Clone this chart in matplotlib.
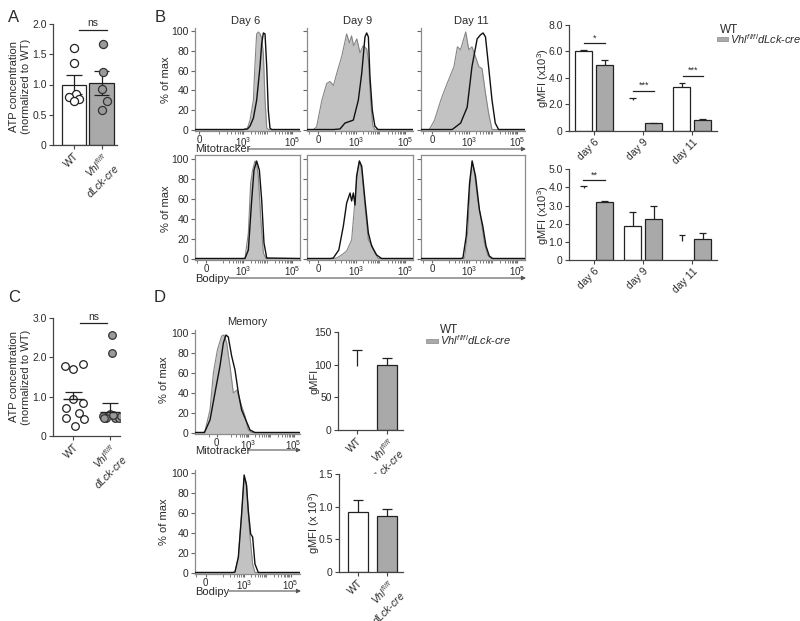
import numpy as np
import matplotlib
matplotlib.use('Agg')
import matplotlib.pyplot as plt
from matplotlib.patches import Rectangle, FancyArrowPatch

plt.rcParams['font.family'] = ['Liberation Sans', 'DejaVu Sans']
plt.rcParams['mathtext.fontset'] = 'custom'
plt.rcParams['mathtext.rm'] = 'Liberation Sans'
plt.rcParams['mathtext.it'] = 'Liberation Sans:italic'
plt.rcParams['mathtext.bf'] = 'Liberation Sans:bold'

# ---------------- DATA ----------------
groups2 = ['WT', 'Vhl']
a_wt_pts = [1.60, 1.36, 0.84, 0.79, 0.76, 0.73]
a_ko_pts = [1.67, 1.20, 0.92, 0.72, 0.58]
a_means = [1.00, 1.02]
a_sem = [0.15, 0.20]

c_wt_pts = [1.77, 1.71, 1.84, 0.93, 0.85, 0.71, 0.58, 0.47, 0.42, 0.25]
c_ko_pts = [2.58, 2.10, 0.55, 0.50, 0.47, 0.45, 0.47, 0.45, 0.53, 0.50]
c_means = [0.93, 0.60]
c_sem = [0.20, 0.25]

days = ['day 6', 'day 9', 'day 11']
mito_wt = [6.0, 2.33, 3.28]
mito_wt_err = [0.10, 0.17, 0.36]
mito_ko = [4.97, 0.56, 0.81]
mito_ko_err = [0.38, 0.03, 0.04]
bod_wt = [3.95, 1.88, 1.07]
bod_wt_err = [0.13, 0.75, 0.31]
bod_ko = [3.18, 2.25, 1.14]
bod_ko_err = [0.09, 0.70, 0.33]

mem_mito = [98, 99]
mem_mito_err = [24, 11]
mem_bod = [0.92, 0.85]
mem_bod_err = [0.18, 0.11]

# histograms: x in display fraction of the axis, y in % of max
d6_mito_ko_x = [0, 0.46, 0.50, 0.524, 0.556, 0.57, 0.587, 0.603, 0.62, 0.635, 0.651, 0.667, 0.683, 0.70, 1.0]
d6_mito_ko_y = [0.5, 0.5, 2, 10, 30, 64, 97, 99, 97, 93, 77, 30, 2, 0.5, 0.5]
d6_mito_wt_x = [0, 0.46, 0.50, 0.524, 0.556, 0.587, 0.619, 0.635, 0.651, 0.667, 0.683, 0.698, 0.714, 0.73, 1.0]
d6_mito_wt_y = [0.5, 0.5, 1, 4, 12, 30, 64, 87, 98, 97, 64, 20, 2, 0.5, 0.5]
d9_mito_ko_x = [0, 0.06, 0.09, 0.14, 0.186, 0.217, 0.25, 0.28, 0.327, 0.374, 0.40, 0.42, 0.44, 0.47, 0.50, 0.53, 0.563, 0.58, 0.60, 0.62, 0.64, 1.0]
d9_mito_ko_y = [0.5, 0.5, 3, 30, 47, 49, 45, 57, 74, 97, 88, 95, 85, 92, 78, 85, 82, 70, 30, 5, 0.5, 0.5]
d9_mito_wt_x = [0, 0.25, 0.311, 0.358, 0.437, 0.484, 0.516, 0.547, 0.563, 0.579, 0.594, 0.616, 0.64, 0.67, 1.0]
d9_mito_wt_y = [0.5, 0.5, 1, 7, 10, 30, 57, 94, 98, 94, 54, 20, 4, 0.5, 0.5]
d11_mito_ko_x = [0, 0.08, 0.13, 0.19, 0.24, 0.317, 0.35, 0.38, 0.43, 0.46, 0.49, 0.524, 0.556, 0.587, 0.62, 0.65, 0.683, 1.0]
d11_mito_ko_y = [0.5, 0.5, 10, 30, 44, 64, 84, 81, 99, 81, 84, 74, 64, 62, 37, 17, 0.5, 0.5]
d11_mito_wt_x = [0, 0.30, 0.381, 0.444, 0.49, 0.54, 0.571, 0.597, 0.62, 0.65, 0.683, 0.714, 0.746, 1.0]
d11_mito_wt_y = [0.5, 0.5, 7, 23, 64, 92, 96, 98, 94, 64, 30, 7, 0.5, 0.5]

d6_bod_ko_x = [0, 0.46, 0.476, 0.508, 0.53, 0.549, 0.571, 0.587, 0.603, 0.625, 0.651, 0.676, 1.0]
d6_bod_ko_y = [0.5, 0.5, 1, 26, 76, 89, 98, 96, 83, 43, 6, 0.5, 0.5]
d6_bod_wt_x = [0, 0.46, 0.476, 0.508, 0.54, 0.562, 0.587, 0.613, 0.635, 0.657, 0.683, 1.0]
d6_bod_wt_y = [0.5, 0.5, 0.5, 9, 59, 89, 98, 89, 59, 16, 1, 0.5]
d9_bod_ko_x = [0, 0.25, 0.28, 0.327, 0.374, 0.421, 0.453, 0.475, 0.494, 0.516, 0.547, 0.579, 0.61, 0.64, 0.673, 1.0]
d9_bod_ko_y = [0.5, 0.5, 1, 4, 8, 19, 59, 86, 98, 89, 53, 19, 14, 6, 0.5, 0.5]
d9_bod_wt_x = [0, 0.22, 0.248, 0.30, 0.343, 0.374, 0.406, 0.421, 0.437, 0.453, 0.468, 0.494, 0.516, 0.547, 0.579, 0.61, 0.657, 0.704, 1.0]
d9_bod_wt_y = [0.5, 0.5, 1, 9, 33, 56, 66, 58, 66, 54, 83, 98, 93, 59, 26, 13, 4, 0.5, 0.5]
d11_bod_ko_x = [0, 0.40, 0.419, 0.451, 0.473, 0.492, 0.514, 0.546, 0.578, 0.61, 0.641, 0.673, 1.0]
d11_bod_ko_y = [0.5, 0.5, 1, 29, 76, 98, 86, 59, 39, 16, 4, 0.5, 0.5]
d11_bod_wt_x = [0, 0.38, 0.403, 0.435, 0.467, 0.492, 0.524, 0.562, 0.594, 0.625, 0.657, 0.689, 1.0]
d11_bod_wt_y = [0.5, 0.5, 1, 23, 76, 98, 83, 49, 33, 13, 3, 0.5, 0.5]

mem_mito_ko_x = [0, 0.08, 0.095, 0.143, 0.175, 0.213, 0.254, 0.276, 0.302, 0.333, 0.365, 0.40, 0.444, 0.476, 0.508, 0.54, 1.0]
mem_mito_ko_y = [0.5, 0.5, 2, 23, 60, 83, 97, 98, 90, 67, 40, 43, 27, 17, 3, 0.5, 0.5]
mem_mito_wt_x = [0, 0.09, 0.143, 0.19, 0.238, 0.27, 0.295, 0.317, 0.349, 0.381, 0.413, 0.444, 0.476, 0.524, 0.57, 1.0]
mem_mito_wt_y = [0.5, 0.5, 13, 40, 67, 90, 98, 96, 77, 63, 40, 23, 15, 3, 0.5, 0.5]
mem_bod_ko_x = [0, 0.36, 0.381, 0.413, 0.444, 0.47, 0.49, 0.508, 0.524, 0.549, 0.571, 1.0]
mem_bod_ko_y = [0.5, 0.5, 1, 16, 59, 96, 90, 59, 36, 9, 0.5, 0.5]
mem_bod_wt_x = [0, 0.36, 0.381, 0.413, 0.444, 0.468, 0.49, 0.508, 0.53, 0.549, 0.571, 0.603, 1.0]
mem_bod_wt_y = [0.5, 0.5, 1, 16, 59, 98, 88, 62, 39, 36, 9, 0.5, 0.5]

# ---------------- FIGURE ----------------
W, H = 800, 621
fig = plt.figure(figsize=(8, 6.21), dpi=100)
TXT = '#2b2b2b'
AX = '#444444'
GRAYBAR = '#a9a9a9'
VHL2 = r'$Vhl^{fl/fl}$' + '\n' + r'$dLck$-$cre$'
VHL1 = r'$Vhl^{fl/fl}dLck$-$cre$'


def px_ax(x0, y0, x1, y1):
    return fig.add_axes([x0 / W, 1 - y1 / H, (x1 - x0) / W, (y1 - y0) / H])


def fx(x):
    return x / W


def fy(y):
    return 1 - y / H


def style_bar_ax(ax):
    for s in ['top', 'right']:
        ax.spines[s].set_visible(False)
    for s in ['left', 'bottom']:
        ax.spines[s].set_color(AX)
        ax.spines[s].set_linewidth(0.9)
    ax.tick_params(colors=AX, labelcolor=TXT, labelsize=7.5, length=3, width=0.8, pad=1.5)


def err_up(ax, x, y, e, capw, lower=False):
    lo = y - e if lower else y
    ax.vlines(x, lo, y + e, color='#222', lw=0.9, zorder=4, clip_on=False)
    ax.hlines(y + e, x - capw / 2, x + capw / 2, color='#222', lw=0.9, zorder=4, clip_on=False)
    if lower:
        ax.hlines(y - e, x - capw / 2, x + capw / 2, color='#222', lw=0.9, zorder=4)


def fig_text(x, y, s, **kw):
    kw.setdefault('color', TXT)
    kw.setdefault('fontsize', 8)
    fig.text(fx(x), fy(y), s, **kw)


def fig_arrow(x0, x1, y):
    fig.add_artist(FancyArrowPatch((fx(x0), fy(y)), (fx(x1), fy(y)), transform=fig.transFigure,
                                   arrowstyle='-|>', color='#555', lw=0.8, mutation_scale=6,
                                   shrinkA=0, shrinkB=0))


# ---------- Panel A ----------
ax = px_ax(53, 24, 117, 145)
style_bar_ax(ax)
xs = np.arange(2)
ax.bar(xs, a_means, width=0.88, color=['white', GRAYBAR], edgecolor='#222', lw=0.9, zorder=2)
for i in range(2):
    err_up(ax, xs[i], a_means[i], a_sem[i], 0.55, lower=True)
a_wt_dx = [0, 0, 0.07, -0.18, 0.18, 0]
a_ko_dx = [0.07, 0.07, 0.0, 0.19, 0.03]
ax.scatter(np.array(a_wt_dx) + 0, a_wt_pts, s=34, facecolor='white', edgecolor='#222', lw=0.9, zorder=5)
ax.scatter(np.array(a_ko_dx) + 1, a_ko_pts, s=34, facecolor='#9a9a9a', edgecolor='#333', lw=0.9, zorder=5)
ax.set_xlim(-0.76, 1.56)
ax.set_ylim(0, 2)
ax.set_yticks([0, 0.5, 1.0, 1.5, 2.0])
ax.set_yticklabels(['0', '0.5', '1.0', '1.5', '2.0'])
ax.set_xticks(xs)
ax.set_xticklabels(['WT', VHL2], rotation=45, ha='right', rotation_mode='anchor', multialignment='right')
ax.plot([0.2, 1.18], [1.9, 1.9], color='#222', lw=0.9, clip_on=False)
ax.text(0.69, 1.93, 'ns', ha='center', va='bottom', fontsize=7.5, color=TXT)
fig_text(20, 86, 'ATP concentration\n(normalized to WT)', rotation=90, ha='center', va='center', fontsize=8)
fig_text(14, 17, 'A', fontsize=12, ha='center', va='center')

# ---------- Panel C ----------
ax = px_ax(53, 318, 120, 436)
style_bar_ax(ax)
c_wt_dx = [-0.24, 0.0, 0.27, 0.0, 0.27, -0.2, 0.16, -0.2, 0.3, 0.05]
c_ko_dx = [0.05, 0.05, 0.0, -0.2, -0.1, -0.15, 0.15, 0.25, 0.1, 0.3]
ax.scatter(np.array(c_wt_dx) + 0, c_wt_pts, s=30, facecolor='white', edgecolor='#222', lw=0.9, zorder=3)
ax.scatter(np.array(c_ko_dx) + 1, c_ko_pts, s=30, facecolor='#9a9a9a', edgecolor='#333', lw=0.9, zorder=3)
for i in range(2):
    ax.hlines(c_means[i], i - 0.28, i + 0.28, color='#222', lw=1.0, zorder=4)
    err_up(ax, i, c_means[i], c_sem[i], 0.45)
ax.set_xlim(-0.56, 1.28)
ax.set_ylim(0, 3)
ax.set_yticks([0, 1, 2, 3])
ax.set_yticklabels(['0', '1.0', '2.0', '3.0'])
ax.set_xticks([0, 1])
ax.set_xticklabels(['WT', VHL2], rotation=45, ha='right', rotation_mode='anchor', multialignment='right')
ax.plot([0.18, 0.92], [2.87, 2.87], color='#222', lw=0.9, clip_on=False)
ax.text(0.55, 2.91, 'ns', ha='center', va='bottom', fontsize=7.5, color=TXT)
fig_text(20, 377, 'ATP concentration\n(normalized to WT)', rotation=90, ha='center', va='center', fontsize=8)
fig_text(14, 298, 'C', fontsize=12, ha='center', va='center')


# ---------- Histograms ----------
def hist_ax(rect, kx, ky, wx, wy, p0, p3, p5, ylab, boxed, ylim):
    ax = px_ax(*rect)
    ax.fill_between(kx, ky, -5, color='#c2c2c2', lw=0, zorder=1)
    ax.plot(kx, ky, color='#858585', lw=0.8, zorder=2)
    ax.plot(wx, wy, color='#111111', lw=1.0, zorder=3)
    ax.set_xlim(0, 1)
    ax.set_ylim(*ylim)
    for s in ax.spines:
        ax.spines[s].set_color('#8c8c8c')
        ax.spines[s].set_linewidth(0.9)
    if not boxed:
        ax.spines['top'].set_visible(False)
        ax.spines['right'].set_visible(False)
    ax.set_yticks([0, 20, 40, 60, 80, 100])
    if ylab:
        ax.set_yticklabels(['0', '20', '40', '60', '80', '100'])
    else:
        ax.set_yticklabels([])
    ax.set_xticks([p0, p3, p5])
    ax.set_xticklabels(['0', r'10$^3$', r'10$^5$'])
    minors = [p0 - (p3 - p0) * 0.25, p0 + (p3 - p0) * 0.45, p0 + (p3 - p0) * 0.62,
              p0 + (p3 - p0) * 0.73, p0 + (p3 - p0) * 0.81, p0 + (p3 - p0) * 0.87,
              p0 + (p3 - p0) * 0.92, p0 + (p3 - p0) * 0.96]
    for k in range(2):
        for m in range(2, 10):
            minors.append(p3 + (p5 - p3) / 2 * (np.log10(m) + k))
    minors = [m for m in minors if 0 <= m <= 1]
    ax.set_xticks(minors, minor=True)
    ax.tick_params(axis='y', which='major', colors='#666', labelcolor=TXT, labelsize=7.5,
                   length=3, width=0.8, pad=1.5)
    ax.tick_params(axis='x', which='major', colors='#666', labelcolor=TXT, labelsize=7,
                   length=2.5, width=0.8, pad=0.3)
    ax.tick_params(axis='x', which='minor', colors='#666', length=1.8, width=0.6)
    return ax


col_x = [(195, 300), (307, 413), (421, 525)]
top_data = [(d6_mito_ko_x, d6_mito_ko_y, d6_mito_wt_x, d6_mito_wt_y),
            (d9_mito_ko_x, d9_mito_ko_y, d9_mito_wt_x, d9_mito_wt_y),
            (d11_mito_ko_x, d11_mito_ko_y, d11_mito_wt_x, d11_mito_wt_y)]
bot_data = [(d6_bod_ko_x, d6_bod_ko_y, d6_bod_wt_x, d6_bod_wt_y),
            (d9_bod_ko_x, d9_bod_ko_y, d9_bod_wt_x, d9_bod_wt_y),
            (d11_bod_ko_x, d11_bod_ko_y, d11_bod_wt_x, d11_bod_wt_y)]
top_p0 = [0.04, 0.105, 0.11]
day_titles = ['Day 6', 'Day 9', 'Day 11']
for i in range(3):
    x0, x1 = col_x[i]
    hist_ax((x0, 28, x1, 131), *top_data[i], top_p0[i], 0.46, 0.925, i == 0, False, (-1, 103))
    hist_ax((x0, 155, x1, 260), *bot_data[i], 0.105, 0.46, 0.925, i == 0, True, (-1, 104))
    fig_text((x0 + x1) / 2 - 2, 21, day_titles[i], ha='center', va='center', fontsize=8)

fig_text(166, 80, '% of max', rotation=90, ha='center', va='center', fontsize=8)
fig_text(166, 209, '% of max', rotation=90, ha='center', va='center', fontsize=8)
fig_text(195, 149, 'Mitotracker', ha='left', va='center', fontsize=8)
fig_text(195, 279, 'Bodipy', ha='left', va='center', fontsize=8)
fig_arrow(248, 526, 149)
fig_arrow(229, 526, 278)
fig_text(160, 17, 'B', fontsize=12, ha='center', va='center')

# memory histograms
hist_ax((195, 330, 300, 434), mem_mito_ko_x, mem_mito_ko_y, mem_mito_wt_x, mem_mito_wt_y,
        0.206, 0.508, 0.94, True, False, (-1, 103))
hist_ax((195, 470, 300, 574), mem_bod_ko_x, mem_bod_ko_y, mem_bod_wt_x, mem_bod_wt_y,
        0.10, 0.47, 0.91, True, False, (-1, 103))
fig_text(247, 322, 'Memory', ha='center', va='center', fontsize=8)
fig_text(164, 380, '% of max', rotation=90, ha='center', va='center', fontsize=8)
fig_text(164, 522, '% of max', rotation=90, ha='center', va='center', fontsize=8)
fig_text(195, 451, 'Mitotracker', ha='left', va='center', fontsize=8)
fig_text(195, 592, 'Bodipy', ha='left', va='center', fontsize=8)
fig_arrow(248, 301, 450)
fig_arrow(229, 301, 591)
fig_text(160, 298, 'D', fontsize=12, ha='center', va='center')


# ---------- Panel B bar charts ----------
def group_bars(rect, wt, wte, ko, koe, wt_drawn, ylim, yt, ytl, ylabel, ylx):
    ax = px_ax(*rect)
    style_bar_ax(ax)
    g = np.arange(3)
    off = 0.213
    bw = 0.345
    for i in range(3):
        if wt_drawn[i]:
            ax.bar(g[i] - off, wt[i], width=bw, color='white', edgecolor='#222', lw=0.9, zorder=2)
        err_up(ax, g[i] - off, wt[i], wte[i], 0.14)
        ax.bar(g[i] + off, ko[i], width=bw, color=GRAYBAR, edgecolor='#222', lw=0.9, zorder=2)
        err_up(ax, g[i] + off, ko[i], koe[i], 0.14)
    ax.set_xlim(-0.51, 2.5)
    ax.set_ylim(*ylim)
    ax.set_yticks(yt)
    ax.set_yticklabels(ytl)
    ax.set_xticks(g)
    ax.set_xticklabels(days, rotation=45, ha='right', rotation_mode='anchor')
    fig_text(ylx, (rect[1] + rect[3]) / 2, ylabel, rotation=90, ha='center', va='center', fontsize=8)
    return ax


axb1 = group_bars((569, 25, 717, 130.7), mito_wt, mito_wt_err, mito_ko, mito_ko_err,
                  [True, False, True], (0, 8), [0, 2, 4, 6, 8], ['0', '2.0', '4.0', '6.0', '8.0'],
                  r'gMFI (x10$^3$)', 543)
for gx, yv, s in [(0, 6.6, '*'), (1, 3.03, '***'), (2, 4.14, '***')]:
    axb1.plot([gx - 0.2, gx + 0.22], [yv, yv], color='#222', lw=0.9)
    axb1.text(gx + 0.01, yv + 0.08, s, ha='center', va='bottom', fontsize=6.5, color=TXT)

axb2 = group_bars((569, 169.3, 717, 260), bod_wt, bod_wt_err, bod_ko, bod_ko_err,
                  [False, True, False], (0, 5), [0, 1, 2, 3, 4, 5], ['0', '1.0', '2.0', '3.0', '4.0', '5.0'],
                  r'gMFI (x10$^3$)', 543)
axb2.plot([-0.22, 0.22], [4.4, 4.4], color='#222', lw=0.9)
axb2.text(0.0, 4.45, '**', ha='center', va='bottom', fontsize=6.5, color=TXT)

# legend B
fig_text(720, 30, 'WT', ha='left', va='center', fontsize=8.5)
fig.patches.append(Rectangle((fx(716.5), fy(41)), 11.5 / W, 4 / H, transform=fig.transFigure,
                             facecolor=GRAYBAR, edgecolor='#888', lw=0.5))
fig_text(730, 39, VHL1, ha='left', va='center', fontsize=8)


# ---------- Panel D bar charts ----------
def two_bars(rect, vals, errs, wt_drawn, ylim, yt, ytl, ylabel, ylx):
    ax = px_ax(*rect)
    style_bar_ax(ax)
    g = np.arange(2)
    if wt_drawn:
        ax.bar(g[0], vals[0], width=0.67, color='white', edgecolor='#222', lw=0.9, zorder=2)
    err_up(ax, g[0], vals[0], errs[0], 0.33)
    ax.bar(g[1], vals[1], width=0.67, color=GRAYBAR, edgecolor='#222', lw=0.9, zorder=2)
    err_up(ax, g[1], vals[1], errs[1], 0.33)
    ax.set_xlim(-0.63, 1.53)
    ax.set_ylim(*ylim)
    ax.set_yticks(yt)
    ax.set_yticklabels(ytl)
    ax.set_xticks(g)
    ax.set_xticklabels(['WT', VHL2], rotation=45, ha='right', rotation_mode='anchor', multialignment='right')
    fig_text(ylx, (rect[1] + rect[3]) / 2, ylabel, rotation=90, ha='center', va='center', fontsize=8)
    return ax


two_bars((338, 332, 403, 430), mem_mito, mem_mito_err, False, (0, 150), [0, 50, 100, 150],
         ['0', '50', '100', '150'], 'gMFI', 315)
two_bars((339, 474, 403, 572), mem_bod, mem_bod_err, True, (0, 1.5), [0, 0.5, 1.0, 1.5],
         ['0', '0.5', '1.0', '1.5'], r'gMFI (x 10$^3$)', 314)

# legend D
fig_text(440, 330, 'WT', ha='left', va='center', fontsize=8.5)
fig.patches.append(Rectangle((fx(426.5), fy(342.5)), 11.5 / W, 4 / H, transform=fig.transFigure,
                             facecolor=GRAYBAR, edgecolor='#888', lw=0.5))
fig_text(440, 340.5, VHL1, ha='left', va='center', fontsize=8)

fig.savefig('out.png', dpi=100, facecolor='white')
